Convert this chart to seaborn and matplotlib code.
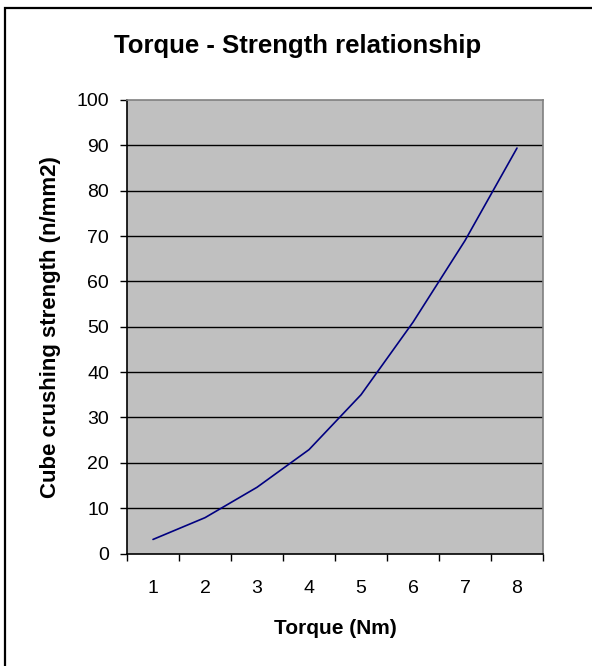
import matplotlib
matplotlib.use("Agg")
import matplotlib.pyplot as plt
from matplotlib.patches import Rectangle
from matplotlib.ticker import FixedLocator, NullFormatter
import seaborn as sns
import pandas as pd

# values
torque = [1, 2, 3, 4, 5, 6, 7, 8]
strength = [3.1, 7.9, 14.6, 22.9, 35.0, 51.0, 69.0, 89.4]
y_ticks = [0, 10, 20, 30, 40, 50, 60, 70, 80, 90, 100]

sns.set_style("white")
plt.rcParams['font.family'] = ['Liberation Sans', 'DejaVu Sans']
plt.rcParams['text.color'] = 'black'
plt.rcParams['axes.labelcolor'] = 'black'
plt.rcParams['xtick.color'] = 'black'
plt.rcParams['ytick.color'] = 'black'

df = pd.DataFrame({'Torque': torque, 'Strength': strength})

W, H = 592, 666
fig = plt.figure(figsize=(W / 100, H / 100), dpi=100)
ax = fig.add_axes([127 / W, 1 - 553.5 / H, (543 - 127) / W, (553.5 - 100) / H])
ax.set_facecolor('#C0C0C0')

sns.lineplot(data=df, x='Torque', y='Strength', ax=ax, color='#000080', linewidth=1.2, zorder=3)

ax.set_xlim(0.5, 8.5)
ax.set_ylim(0, 100)
ax.set_yticks(y_ticks)
ax.set_yticklabels([str(t) for t in y_ticks], fontsize=14)
ax.set_xticks(torque)
ax.set_xticklabels([str(t) for t in torque], fontsize=14)
ax.tick_params(axis='x', which='major', length=0, pad=19)
ax.xaxis.set_minor_locator(FixedLocator([t + 0.5 for t in [0] + torque]))
ax.xaxis.set_minor_formatter(NullFormatter())
ax.tick_params(axis='x', which='minor', length=5, width=1, color='black', direction='out', bottom=True)
ax.tick_params(axis='y', length=5, width=1, color='black', direction='out', left=True, pad=8)

for y in y_ticks[1:-1]:
    ax.axhline(y, color='black', linewidth=1, zorder=1)

ax.spines['left'].set_color('black')
ax.spines['bottom'].set_color('black')
ax.spines['top'].set_color('#808080')
ax.spines['right'].set_color('#808080')
for s in ax.spines.values():
    s.set_linewidth(1.2)

ax.set_xlabel('Torque (Nm)', fontsize=15, fontweight='bold', labelpad=16)
ax.set_ylabel('Cube crushing strength (n/mm2)', fontsize=16, fontweight='bold', labelpad=11)
fig.text(298 / W, 1 - 46 / H, 'Torque - Strength relationship', ha='center', va='center',
         fontsize=18.5, fontweight='bold')

# outer chart border (right and bottom edges fall outside the image)
fig.patches.append(Rectangle((5 / W, -0.05), 1.1, 1 - 8 / H + 0.05, transform=fig.transFigure,
                             fill=False, edgecolor='black', linewidth=1.6))

fig.savefig('out.png', dpi=100)
